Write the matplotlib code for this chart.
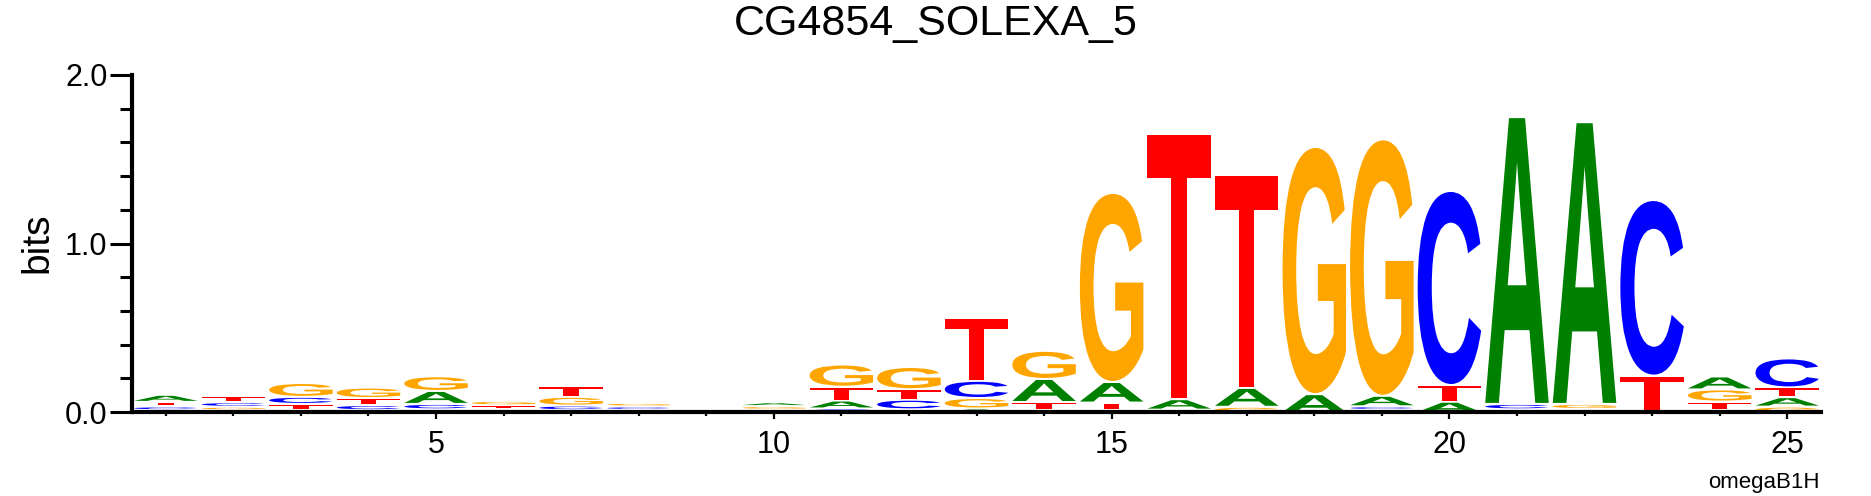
import matplotlib
matplotlib.use("Agg")
import matplotlib.pyplot as plt
from matplotlib.textpath import TextPath
from matplotlib.patches import PathPatch
from matplotlib.font_manager import FontProperties
from matplotlib.transforms import Affine2D
from matplotlib.ticker import MultipleLocator

plt.rcParams['font.family'] = ['Liberation Sans', 'DejaVu Sans']

title = "CG4854_SOLEXA_5"
positions = list(range(1, 26))
# information content (bits) per base
bits_A = [0.03, 0.005, 0.005, 0.005, 0.065, 0.0, 0.005, 0.0, 0.0, 0.011,
          0.035, 0.01, 0.015, 0.125, 0.11, 0.05, 0.1, 0.1, 0.05, 0.055,
          1.69, 1.66, 0.0, 0.065, 0.044]
bits_C = [0.01, 0.015, 0.03, 0.018, 0.02, 0.01, 0.015, 0.008, 0.0, 0.0,
          0.015, 0.045, 0.09, 0.006, 0.008, 0.0, 0.0, 0.0, 0.009, 1.14,
          0.02, 0.012, 1.03, 0.008, 0.16]
bits_G = [0.005, 0.008, 0.07, 0.05, 0.075, 0.014, 0.04, 0.009, 0.0, 0.009,
          0.12, 0.12, 0.05, 0.155, 1.11, 0.008, 0.025, 1.455, 1.51, 0.0,
          0.0, 0.018, 0.0, 0.06, 0.026]
bits_T = [0.015, 0.025, 0.025, 0.03, 0.01, 0.012, 0.05, 0.007, 0.0, 0.008,
          0.07, 0.05, 0.36, 0.035, 0.03, 1.56, 1.25, 0.0, 0.007, 0.087,
          0.01, 0.0, 0.21, 0.036, 0.046]

colors = {'A': '#008000', 'C': '#0000ff', 'G': '#ffa500', 'T': '#ff0000'}
glyph_font = FontProperties(family='Liberation Sans', weight='bold')
GAP = 0.012  # small white space between stacked letters


def draw_letter(ax, ch, x, y0, h, width=0.94):
    """Stretch a glyph to fill the box [x-w/2, x+w/2] x [y0, y0+h]."""
    path = TextPath((0, 0), ch, size=1, prop=glyph_font)
    ext = path.get_extents()
    tr = (Affine2D()
          .translate(-ext.x0, -ext.y0)
          .scale(width / ext.width, h / ext.height)
          .translate(x - width / 2, y0))
    ax.add_patch(PathPatch(tr.transform_path(path), facecolor=colors[ch],
                           edgecolor='none', lw=0))


fig = plt.figure(figsize=(18.71, 4.96), dpi=100)
ax = fig.add_axes([132 / 1871, 1 - 412 / 496, 1689 / 1871, 337 / 496])

for i, pos in enumerate(positions):
    stack = [('A', bits_A[i]), ('C', bits_C[i]), ('G', bits_G[i]), ('T', bits_T[i])]
    stack = sorted([s for s in stack if s[1] > 0], key=lambda s: s[1])
    y = 0.0
    for ch, h in stack:
        draw_letter(ax, ch, pos, y, h)
        y += h + GAP

ax.set_xlim(0.5, 25.5)
ax.set_ylim(0, 2.0)
for s in ['top', 'right']:
    ax.spines[s].set_visible(False)
ax.spines['left'].set_linewidth(3)
ax.spines['bottom'].set_linewidth(3)

ax.set_yticks([0, 1, 2])
ax.set_yticklabels(['0.0', '1.0', '2.0'])
ax.yaxis.set_minor_locator(MultipleLocator(0.2))
ax.set_xticks([5, 10, 15, 20, 25])
ax.xaxis.set_minor_locator(MultipleLocator(1))
ax.tick_params(axis='y', which='major', length=15.6, width=2.2, labelsize=22, pad=2)
ax.tick_params(axis='y', which='minor', length=8.4, width=2.2)
ax.tick_params(axis='x', which='major', length=5, width=1.6, labelsize=22, pad=8)
ax.tick_params(axis='x', which='minor', length=3, width=1.6)

fig.text(37 / 1871, 1 - 243 / 496, 'bits', rotation=90, ha='center', va='center',
         fontsize=28)
fig.text(0.5, 1 - 35 / 496, title, ha='center', va='baseline', fontsize=31)
fig.text(1820 / 1871, 1 - 488 / 496, 'omegaB1H', ha='right', va='baseline', fontsize=16)

fig.savefig('out.png', dpi=100)
